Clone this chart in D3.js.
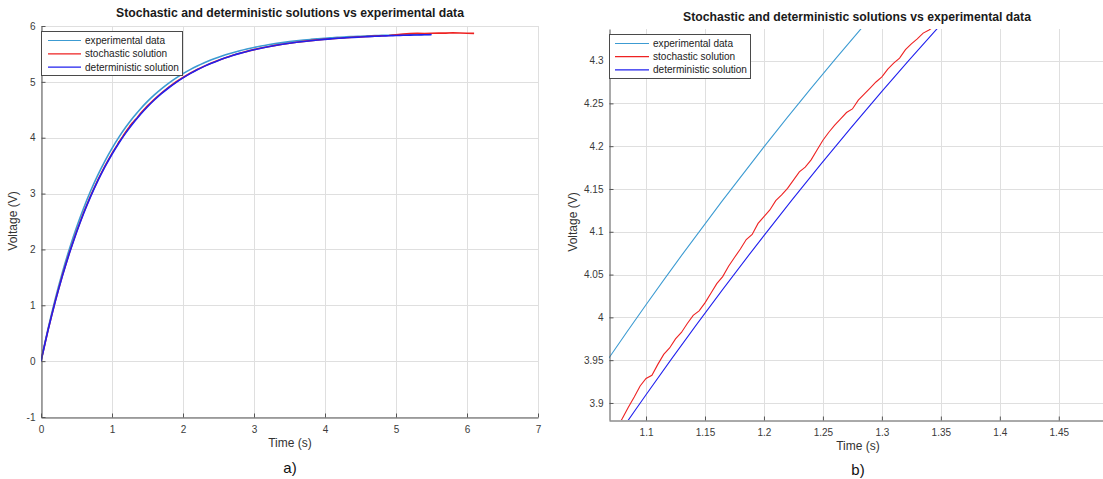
<!DOCTYPE html>
<html>
<head>
<meta charset="utf-8">
<script src="https://cdn.jsdelivr.net/npm/d3@7"></script>
<style>
  body { margin: 0; background: #fff; }
  svg { display: block; }
  text { font-family: "Liberation Sans", Arial, Helvetica, sans-serif; }
</style>
</head>
<body>
<svg id="fig" width="1103" height="479"></svg>
<script>
// ---- data -------------------------------------------------------------
const timeGrid = [0,0.1,0.2,0.3,0.4,0.5,0.6,0.7,0.8,0.9,1.0,1.1,1.2,1.3,1.4,1.5,1.6,1.7,1.8,1.9,
  2.0,2.1,2.2,2.3,2.4,2.5,2.6,2.7,2.8,2.9,3.0,3.1,3.2,3.3,3.4,3.5,3.6,3.7,3.8,3.9,
  4.0,4.1,4.2,4.3,4.4,4.5,4.6,4.7,4.8,4.9,5.0,5.1,5.2,5.3,5.4,5.5,5.6,5.7,5.8,5.9,6.0,6.1];

// measured capacitor voltage (V), 0 .. 5.5 s
const experimental = [0,0.5836,1.1091,1.5824,2.0087,2.3926,2.7383,3.0496,3.3300,3.5825,
  3.8099,4.0147,4.1992,4.3653,4.5149,4.6496,4.7709,4.8802,4.9786,5.0672,
  5.1470,5.2189,5.2836,5.3419,5.3944,5.4417,5.4843,5.5226,5.5572,5.5883,
  5.6163,5.6415,5.6642,5.6847,5.7031,5.7197,5.7346,5.7481,5.7602,5.7711,
  5.7810,5.7898,5.7978,5.8050,5.8114,5.8172,5.8225,5.8272,5.8315,5.8353,
  5.8387,5.8419,5.8447,5.8472,5.8494,5.8515];

// deterministic model (V), 0 .. 5.5 s
const deterministic = [0,0.5570,1.0612,1.5175,1.9305,2.3043,2.6427,2.9489,3.2261,3.4770,
  3.7041,3.9096,4.0956,4.2640,4.4164,4.5543,4.6792,4.7922,4.8944,4.9870,
  5.0708,5.1466,5.2153,5.2774,5.3336,5.3845,5.4306,5.4723,5.5100,5.5442,
  5.5751,5.6031,5.6284,5.6513,5.6721,5.6909,5.7079,5.7233,5.7372,5.7498,
  5.7612,5.7715,5.7809,5.7893,5.7970,5.8039,5.8102,5.8158,5.8210,5.8256,
  5.8298,5.8337,5.8371,5.8402,5.8431,5.8456];

// stochastic solution (V), 0 .. 6.1 s
const stochastic = [0,0.5620,1.0700,1.5270,1.9420,2.3160,2.6560,2.9620,3.2400,3.4920,
  3.7190,3.9286,4.1177,4.2810,4.4330,4.5700,4.6930,4.8050,4.9060,4.9970,
  5.0790,5.1530,5.2210,5.2820,5.3370,5.3880,5.4330,5.4750,5.5120,5.5460,
  5.5770,5.6050,5.6300,5.6530,5.6730,5.6920,5.7090,5.7240,5.7380,5.7510,
  5.7620,5.7730,5.7820,5.7910,5.7990,5.8060,5.8130,5.8190,5.8250,5.8310,
  5.8440,5.8570,5.8630,5.8680,5.8660,5.8700,5.8740,5.8720,5.8780,5.8750,
  5.8700,5.8680];

// finely sampled stochastic path, 1.075 .. 1.35 s
const detailTime = [1.075,1.080,1.085,1.090,1.095,1.100,1.105,1.110,1.115,1.120,
  1.125,1.130,1.135,1.140,1.145,1.150,1.155,1.160,1.165,1.170,
  1.175,1.180,1.185,1.190,1.195,1.200,1.205,1.210,1.215,1.220,
  1.225,1.230,1.235,1.240,1.245,1.250,1.255,1.260,1.265,1.270,
  1.275,1.280,1.285,1.290,1.295,1.300,1.305,1.310,1.315,1.320,
  1.325,1.330,1.335,1.340,1.345,1.350];
const stochasticDetail = [3.8701,3.8821,3.8951,3.9070,3.9198,3.9286,3.9324,3.9451,3.9567,3.9643,
  3.9749,3.9824,3.9928,4.0023,4.0076,4.0169,4.0282,4.0394,4.0476,4.0598,
  4.0699,4.0799,4.0909,4.0969,4.1098,4.1177,4.1255,4.1363,4.1430,4.1507,
  4.1603,4.1699,4.1755,4.1840,4.1955,4.2069,4.2163,4.2247,4.2320,4.2393,
  4.2435,4.2537,4.2608,4.2679,4.2750,4.2810,4.2900,4.2970,4.3029,4.3127,
  4.3196,4.3254,4.3321,4.3358,4.3405,4.3471];

const seriesNames = ["experimental data", "stochastic solution", "deterministic solution"];
const titleText = "Stochastic and deterministic solutions vs experimental data";

const xTicksFull = [0,1,2,3,4,5,6,7];
const yTicksFull = [-1,0,1,2,3,4,5,6];
const xTicksZoom = [1.1,1.15,1.2,1.25,1.3,1.35,1.4,1.45];
const yTicksZoom = [3.9,3.95,4.0,4.05,4.1,4.15,4.2,4.25,4.3];

// ---- series assembly ---------------------------------------------------
const expSeries = experimental.map((v, i) => [timeGrid[i], v]);
const detSeries = deterministic.map((v, i) => [timeGrid[i], v]);
const dLo = detailTime[0], dHi = detailTime[detailTime.length - 1];
const stochSeries = stochastic.map((v, i) => [timeGrid[i], v])
  .filter(p => p[0] < dLo || p[0] > dHi)
  .concat(stochasticDetail.map((v, i) => [detailTime[i], v]))
  .sort((a, b) => a[0] - b[0]);

const colors = ["#3c9bd2", "#ee2222", "#2020ee"];

const svg = d3.select("#fig");
const FONT = '"Liberation Sans", Arial, Helvetica, sans-serif';

function fitText(sel, width) {
  const node = sel.node();
  const fs = parseFloat(sel.attr("font-size"));
  const len = node.getComputedTextLength();
  if (len > 0) sel.attr("font-size", (fs * width / len).toFixed(2));
}

function drawPanel(cfg) {
  const g = svg.append("g");
  const x = d3.scaleLinear().domain(cfg.xDomain).range(cfg.xRange);
  const y = d3.scaleLinear().domain(cfg.yDomain).range(cfg.yRange);
  const [x0, x1] = cfg.xRange, [y0, y1] = cfg.yRange; // y0 bottom, y1 top

  // grid
  const grid = g.append("g").attr("stroke", "#dfdfdf").attr("stroke-width", 1);
  cfg.xTicks.forEach(t => {
    const px = Math.round(x(t)) + 0.5;
    grid.append("line").attr("x1", px).attr("x2", px).attr("y1", y1).attr("y2", y0);
  });
  cfg.yTicks.forEach(t => {
    const py = Math.round(y(t)) + 0.5;
    grid.append("line").attr("x1", x0).attr("x2", x1).attr("y1", py).attr("y2", py);
  });

  // curves
  const clipId = "clip" + cfg.id;
  svg.append("clipPath").attr("id", clipId).append("rect")
    .attr("x", x0).attr("y", y1).attr("width", x1 - x0).attr("height", y0 - y1);
  const lines = g.append("g").attr("clip-path", `url(#${clipId})`).attr("fill", "none");
  const smooth = d3.line().x(d => x(d[0])).y(d => y(d[1])).curve(d3.curveMonotoneX);
  const jag = d3.line().x(d => x(d[0])).y(d => y(d[1]));
  lines.append("path").attr("d", smooth(expSeries)).attr("stroke", colors[0]).attr("stroke-width", cfg.lw);
  lines.append("path").attr("d", jag(stochSeries)).attr("stroke", colors[1]).attr("stroke-width", cfg.lw);
  lines.append("path").attr("d", smooth(detSeries)).attr("stroke", colors[2]).attr("stroke-width", cfg.lw);

  // axes
  const fmt = d => String(+d.toFixed(2));
  const xAxis = d3.axisBottom(x).tickValues(cfg.xTicks).tickFormat(fmt)
    .tickSizeInner(-4).tickSizeOuter(0).tickPadding(8);
  const yAxis = d3.axisLeft(y).tickValues(cfg.yTicks).tickFormat(fmt)
    .tickSizeInner(-4).tickSizeOuter(0).tickPadding(6);
  const gx = g.append("g").attr("transform", `translate(0,${y0 + 0.5})`).call(xAxis);
  const gy = g.append("g").attr("transform", `translate(${x0 + 0.5},0)`).call(yAxis);
  [gx, gy].forEach(a => {
    a.attr("font-family", FONT).attr("font-size", 10);
    a.select(".domain").attr("stroke", "#555");
    a.selectAll(".tick line").attr("stroke", "#555");
    a.selectAll(".tick text").attr("fill", "#3a3a3a");
  });

  // title and labels
  const cx = cfg.labelX;
  const title = g.append("text").attr("x", cfg.titleX).attr("y", cfg.titleY)
    .attr("text-anchor", "middle").attr("font-weight", "bold").attr("font-size", 12)
    .attr("fill", "#1a1a1a").text(titleText);
  fitText(title, 348);
  g.append("text").attr("x", cx).attr("y", cfg.xlabelY).attr("text-anchor", "middle")
    .attr("font-size", 12).attr("fill", "#333").text("Time (s)");
  g.append("text").attr("transform", `translate(${cfg.ylabelX},${cfg.ylabelY}) rotate(-90)`)
    .attr("text-anchor", "middle").attr("font-size", 12).attr("fill", "#333").text("Voltage (V)");
  g.append("text").attr("x", cx).attr("y", cfg.tagY).attr("text-anchor", "middle")
    .attr("font-size", 15).attr("fill", "#111").text(cfg.tag);

  // legend
  const L = cfg.legend;
  const lg = g.append("g");
  lg.append("rect").attr("x", L.x + 0.5).attr("y", L.y + 0.5).attr("width", L.w).attr("height", L.h)
    .attr("fill", "#fff").attr("stroke", "#4a4a4a").attr("stroke-width", 1);
  seriesNames.forEach((name, i) => {
    const ry = L.y + L.first + i * L.step;
    lg.append("line").attr("x1", L.x + L.l0).attr("x2", L.x + L.l1)
      .attr("y1", ry).attr("y2", ry).attr("stroke", colors[i]).attr("stroke-width", 1.2);
    const t = lg.append("text").attr("x", L.x + L.tx).attr("y", ry).attr("dy", "0.35em")
      .attr("font-size", 10).attr("fill", "#222").text(name);
    if (i === 2) {
      const fs0 = 10, len = t.node().getComputedTextLength();
      const fs = (fs0 * L.textW / len).toFixed(2);
      lg.selectAll("text").attr("font-size", fs);
    }
  });
}

drawPanel({
  id: "a", xDomain: [0, 7], xRange: [41, 538], yDomain: [-1, 6], yRange: [417, 26],
  xTicks: xTicksFull, yTicks: yTicksFull, lw: 1.6,
  titleX: 290, titleY: 17, labelX: 290, xlabelY: 447, ylabelX: 17, ylabelY: 221,
  tag: "a)", tagY: 473,
  legend: { x: 41, y: 31, w: 141, h: 44, first: 9.5, step: 13.3, l0: 7, l1: 40, tx: 44, textW: 94 }
});

drawPanel({
  id: "b", xDomain: [1.0686, 1.4875], xRange: [609, 1103], yDomain: [3.8801, 4.3369], yRange: [420, 29],
  xTicks: xTicksZoom, yTicks: yTicksZoom, lw: 1.1,
  titleX: 857, titleY: 21, labelX: 858, xlabelY: 450, ylabelX: 577, ylabelY: 222,
  tag: "b)", tagY: 475,
  legend: { x: 609, y: 34, w: 141, h: 44, first: 9.5, step: 13.2, l0: 6, l1: 40, tx: 44, textW: 94 }
});
</script>
</body>
</html>
